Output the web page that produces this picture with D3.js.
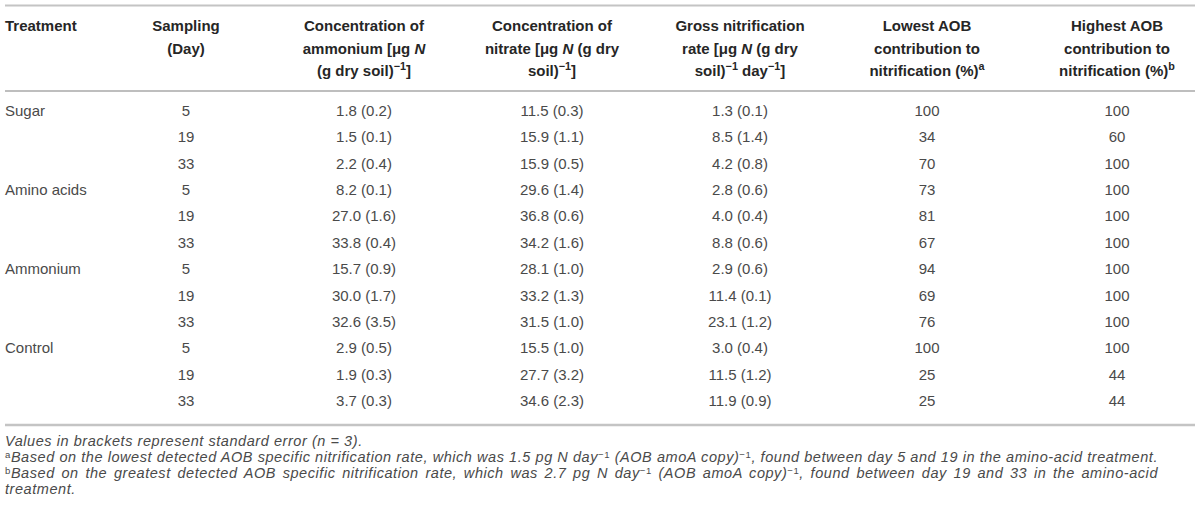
<!DOCTYPE html>
<html>
<head>
<meta charset="utf-8">
<script src="https://cdn.jsdelivr.net/npm/d3@7"></script>
<style>
  html, body { margin: 0; padding: 0; background: #fff; }
  svg { display: block; }
</style>
</head>
<body>
<svg id="chart" width="1200" height="515"></svg>
<script>
// ---- data ----
const treatments = ["Sugar", "Amino acids", "Ammonium", "Control"];
const samplingDays = [5, 19, 33];
const ammoniumMean = [1.8, 1.5, 2.2, 8.2, 27.0, 33.8, 15.7, 30.0, 32.6, 2.9, 1.9, 3.7];
const ammoniumSE   = [0.2, 0.1, 0.4, 0.1, 1.6, 0.4, 0.9, 1.7, 3.5, 0.5, 0.3, 0.3];
const nitrateMean  = [11.5, 15.9, 15.9, 29.6, 36.8, 34.2, 28.1, 33.2, 31.5, 15.5, 27.7, 34.6];
const nitrateSE    = [0.3, 1.1, 0.5, 1.4, 0.6, 1.6, 1.0, 1.3, 1.0, 1.0, 3.2, 2.3];
const grossMean    = [1.3, 8.5, 4.2, 2.8, 4.0, 8.8, 2.9, 11.4, 23.1, 3.0, 11.5, 11.9];
const grossSE      = [0.1, 1.4, 0.8, 0.6, 0.4, 0.6, 0.6, 0.1, 1.2, 0.4, 1.2, 0.9];
const lowestAOB    = [100, 34, 70, 73, 81, 67, 94, 69, 76, 100, 25, 25];
const highestAOB   = [100, 60, 100, 100, 100, 100, 100, 100, 100, 100, 44, 44];

// header texts: each column = list of lines; each line = list of segments
const headerLines = [
  [[{t:"Treatment"}]],
  [[{t:"Sampling"}], [{t:"(Day)"}]],
  [[{t:"Concentration of"}], [{t:"ammonium [\u03bcg "}, {t:"N", i:true}], [{t:"(g dry soil)"}, {t:"\u22121", sup:true}, {t:"]"}]],
  [[{t:"Concentration of"}], [{t:"nitrate [\u03bcg "}, {t:"N", i:true}, {t:" (g dry"}], [{t:"soil)"}, {t:"\u22121", sup:true}, {t:"]"}]],
  [[{t:"Gross nitrification"}], [{t:"rate [\u03bcg "}, {t:"N", i:true}, {t:" (g dry"}], [{t:"soil)"}, {t:"\u22121", sup:true}, {t:" day"}, {t:"\u22121", sup:true}, {t:"]"}]],
  [[{t:"Lowest AOB"}], [{t:"contribution to"}], [{t:"nitrification (%)"}, {t:"a", sup:true}]],
  [[{t:"Highest AOB"}], [{t:"contribution to"}], [{t:"nitrification (%)"}, {t:"b", sup:true}]]
];

const footnoteLines = [
  {seg:[{t:"Values in brackets represent standard error ("}, {t:"n"}, {t:" = 3)."}], justify:false},
  {seg:[{t:"a", sup:true, roman:true}, {t:"Based on the lowest detected AOB specific nitrification rate, which was 1.5 pg N day"}, {t:"\u22121", sup:true, roman:true}, {t:" (AOB amoA copy)"}, {t:"\u22121", sup:true, roman:true}, {t:", found between day 5 and 19 in the amino-acid treatment."}], justify:false, fit:true},
  {seg:[{t:"b", sup:true, roman:true}, {t:"Based on the greatest detected AOB specific nitrification rate, which was 2.7 pg N day"}, {t:"\u22121", sup:true, roman:true}, {t:" (AOB amoA copy)"}, {t:"\u22121", sup:true, roman:true}, {t:", found between day 19 and 33 in the amino-acid"}], justify:true},
  {seg:[{t:"treatment."}], justify:false}
];

// ---- layout ----
const svg = d3.select("#chart");
const FONT = "'Liberation Sans', Arial, Helvetica, sans-serif";
const nRows = treatments.length * samplingDays.length;

const colKeys = ["treatment", "day", "amm", "nit", "gross", "low", "high"];
const colX = d3.scaleOrdinal().domain(colKeys).range([5, 186, 364, 552, 740, 927, 1117]);
const colAnchor = d3.scaleOrdinal().domain(colKeys).range(["start", "middle", "middle", "middle", "middle", "middle", "middle"]);

const rowY = d3.scaleLinear().domain([0, nRows - 1]).range([116, 406]);
const headY = d3.scaleLinear().domain([0, 2]).range([31, 76]);
const footY = d3.scaleLinear().domain([0, 3]).range([446, 494]);

const fmt = d3.format(".1f");
const withSE = (m, s) => m.map((v, i) => `${fmt(v)} (${fmt(s[i])})`);

const rows = d3.range(nRows).map(i => ({
  treatment: i % samplingDays.length === 0 ? treatments[Math.floor(i / samplingDays.length)] : "",
  day: String(samplingDays[i % samplingDays.length]),
  amm: withSE(ammoniumMean, ammoniumSE)[i],
  nit: withSE(nitrateMean, nitrateSE)[i],
  gross: withSE(grossMean, grossSE)[i],
  low: String(lowestAOB[i]),
  high: String(highestAOB[i])
}));

// rules
const rules = [
  {y: 5.5, w: 2, c: "#c4c4c4"},
  {y: 91, w: 1.6, c: "#a8a8a8"},
  {y: 425, w: 2.5, c: "#c4c4c4"}
];
svg.selectAll("line.rule").data(rules).join("line")
  .attr("class", "rule")
  .attr("x1", 5).attr("x2", 1195)
  .attr("y1", d => d.y).attr("y2", d => d.y)
  .attr("stroke", d => d.c).attr("stroke-width", d => d.w);

function addSegments(textSel, segs, baseItalic, supSize, supShift) {
  segs.forEach(s => {
    const ts = textSel.append("tspan").text(s.t);
    if (s.i) ts.attr("font-style", "italic");
    if (baseItalic && !s.roman) ts.attr("font-style", "italic");
    if (baseItalic && s.roman) ts.attr("font-style", "normal");
    if (s.sup) ts.attr("baseline-shift", supShift).attr("font-size", supSize);
  });
}

// header
const headG = svg.append("g").attr("font-family", FONT).attr("font-size", 15).attr("font-weight", "bold").attr("fill", "#262626");
headerLines.forEach((lines, ci) => {
  const key = colKeys[ci];
  lines.forEach((segs, li) => {
    const t = headG.append("text")
      .attr("x", colX(key))
      .attr("y", headY(li))
      .attr("text-anchor", colAnchor(key));
    addSegments(t, segs, false, "72%", "super");
  });
});

// body
const bodyG = svg.append("g").attr("font-family", FONT).attr("font-size", 15).attr("fill", "#4a4a4a");
const rowG = bodyG.selectAll("g.row").data(rows).join("g").attr("class", "row")
  .attr("transform", (d, i) => `translate(0,${rowY(i)})`);
rowG.selectAll("text").data(d => colKeys.map(k => ({k, v: d[k]}))).join("text")
  .attr("x", d => colX(d.k))
  .attr("text-anchor", d => colAnchor(d.k))
  .text(d => d.v);

// footnotes
const footG = svg.append("g").attr("font-family", FONT).attr("font-size", 14.5).attr("fill", "#4a4a4a");
const leftEdge = 5, rightEdge = 1158;
const texts = footnoteLines.map((fl, li) => {
  const t = footG.append("text").attr("x", leftEdge).attr("y", footY(li));
  addSegments(t, fl.seg, true, "66%", "4.5px");
  return t;
});
// letter spacing so that the full footnote line fills the text block width
const fitIdx = footnoteLines.findIndex(f => f.fit);
const fitNode = texts[fitIdx].node();
const nat = fitNode.getComputedTextLength();
const nChars = fitNode.getNumberOfChars();
const ls = Math.max(0, (rightEdge - leftEdge - nat) / nChars);
footG.style("letter-spacing", ls + "px");
footnoteLines.forEach((fl, li) => {
  if (fl.justify) {
    const t = texts[li];
    const natural = t.node().getComputedTextLength();
    const spaces = fl.seg.reduce((a, s) => a + (s.t.match(/ /g) || []).length, 0);
    const extra = (rightEdge - leftEdge - natural) / spaces;
    if (extra > 0) t.style("word-spacing", extra + "px");
  }
});
</script>
</body>
</html>
